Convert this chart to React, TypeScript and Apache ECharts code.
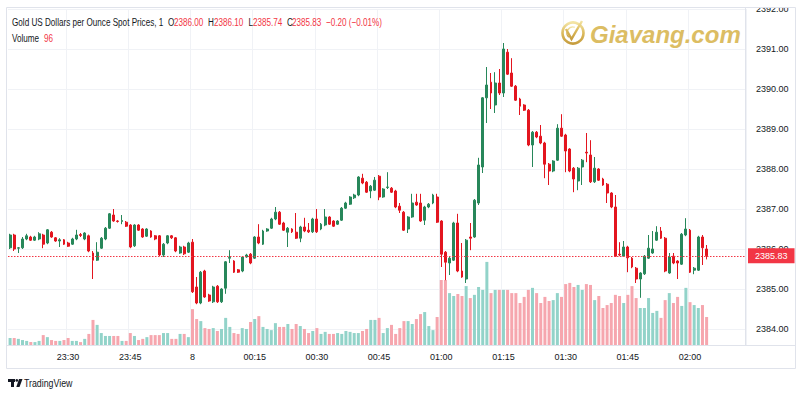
import React, { useEffect, useRef } from "react";
import * as echarts from "echarts";

// ---- data (1-minute candles, 23:16 .. 02:04) ----
const startTime = "23:16";
const slotCount = 178; // candle slots across the visible time axis (incl. empty right margin)
const titleText = "Gold US Dollars per Ounce Spot Prices, 1";
const priceMin = 2384;
const priceMax = 2392;
const priceStep = 1;

const opens = [
  2386.03, 2386.35, 2386.02, 2386.03, 2386.25, 2386.30, 2386.22, 2386.25, 2386.35, 2386.15,
  2386.42, 2386.28, 2386.20, 2386.23, 2386.15, 2386.12, 2386.25, 2386.36, 2386.25, 2386.33,
  2385.90, 2385.72, 2386.02, 2386.25, 2386.52, 2386.85, 2386.70, 2386.69, 2386.67, 2386.60,
  2386.08, 2386.60, 2386.50, 2386.32, 2386.45, 2386.33, 2386.33, 2385.85, 2386.15, 2386.33,
  2386.28, 2385.90, 2386.05, 2385.92, 2386.17, 2385.05, 2384.65, 2385.45, 2384.85, 2384.68,
  2385.07, 2384.68, 2385.02, 2385.77, 2385.70, 2385.48, 2385.45, 2385.80, 2385.87, 2385.77,
  2386.30, 2386.12, 2386.45, 2386.52, 2386.75, 2386.92, 2386.65, 2386.42, 2386.50, 2386.42,
  2386.27, 2386.55, 2386.47, 2386.43, 2386.75, 2386.50, 2386.60, 2386.80, 2386.70, 2386.62,
  2386.72, 2387.02, 2387.12, 2387.28, 2387.35, 2387.77, 2387.67, 2387.45, 2387.47, 2387.82,
  2387.30, 2387.54, 2387.52, 2387.45, 2387.07, 2386.92, 2386.50, 2386.80, 2387.17, 2387.15,
  2386.72, 2387.05, 2387.15, 2387.30, 2386.70, 2385.92, 2385.65, 2385.72, 2386.65, 2385.45,
  2385.25, 2386.30, 2386.30, 2387.15, 2388.05, 2389.78, 2390.17, 2389.60, 2390.15, 2389.90,
  2390.92, 2390.40, 2390.07, 2389.75, 2389.60, 2389.47, 2388.60, 2388.92, 2388.82, 2388.65,
  2388.12, 2387.95, 2388.22, 2389.02, 2388.85, 2388.50, 2388.02, 2387.70, 2388.05, 2388.42,
  2388.35, 2387.68, 2388.00, 2387.75, 2387.62, 2387.40, 2387.05, 2385.87, 2385.82, 2386.05,
  2385.77, 2385.52, 2385.25, 2385.38, 2385.77, 2385.90, 2386.22, 2386.45, 2386.27, 2385.40,
  2385.82, 2385.70, 2385.62, 2386.35, 2386.47, 2385.47, 2385.47, 2386.30, 2386.00,
];

const highs = [
  2386.38, 2386.38, 2386.05, 2386.30, 2386.38, 2386.33, 2386.33, 2386.42, 2386.38, 2386.50,
  2386.45, 2386.30, 2386.27, 2386.25, 2386.18, 2386.28, 2386.48, 2386.40, 2386.42, 2386.36,
  2385.95, 2386.17, 2386.30, 2386.55, 2386.90, 2387.00, 2386.72, 2386.85, 2386.70, 2386.62,
  2386.62, 2386.62, 2386.52, 2386.52, 2386.47, 2386.35, 2386.35, 2386.15, 2386.35, 2386.35,
  2386.30, 2386.08, 2386.08, 2386.18, 2386.25, 2385.30, 2385.45, 2385.48, 2384.88, 2385.08,
  2385.10, 2385.02, 2385.70, 2385.97, 2385.72, 2385.50, 2385.82, 2385.88, 2385.90, 2386.32,
  2386.62, 2386.48, 2386.52, 2386.78, 2387.05, 2386.95, 2386.68, 2386.55, 2386.52, 2386.90,
  2386.58, 2386.78, 2386.65, 2386.78, 2387.00, 2386.65, 2387.00, 2386.82, 2386.72, 2386.72,
  2387.05, 2387.18, 2387.32, 2387.38, 2387.82, 2387.88, 2387.70, 2387.60, 2387.80, 2387.85,
  2387.52, 2387.92, 2387.55, 2387.48, 2387.15, 2386.95, 2386.82, 2387.38, 2387.38, 2387.38,
  2387.08, 2387.15, 2387.38, 2387.38, 2386.72, 2385.95, 2385.80, 2386.68, 2386.88, 2386.15,
  2386.25, 2386.65, 2387.25, 2388.28, 2389.80, 2390.55, 2390.40, 2390.42, 2390.50, 2391.15,
  2391.00, 2390.77, 2390.10, 2389.78, 2389.62, 2389.50, 2388.95, 2388.95, 2389.10, 2388.68,
  2388.15, 2388.22, 2389.12, 2389.37, 2388.88, 2388.52, 2388.05, 2388.05, 2388.25, 2388.90,
  2388.72, 2388.30, 2388.02, 2387.78, 2387.65, 2387.42, 2387.35, 2386.17, 2386.20, 2386.08,
  2385.80, 2385.55, 2385.42, 2385.85, 2386.35, 2386.45, 2386.57, 2386.55, 2386.30, 2385.90,
  2385.90, 2385.72, 2386.40, 2386.77, 2386.50, 2385.55, 2386.33, 2386.35, 2386.10,
];

const lows = [
  2386.00, 2385.95, 2385.90, 2386.00, 2386.22, 2386.20, 2386.20, 2386.22, 2386.02, 2386.12,
  2386.28, 2386.18, 2386.05, 2386.10, 2386.05, 2386.10, 2386.22, 2386.30, 2386.22, 2385.92,
  2385.25, 2385.70, 2386.00, 2386.22, 2386.50, 2386.68, 2386.66, 2386.62, 2386.55, 2386.02,
  2386.05, 2386.45, 2386.28, 2386.30, 2386.28, 2386.22, 2385.82, 2385.80, 2386.12, 2386.25,
  2385.92, 2385.88, 2385.85, 2385.90, 2384.90, 2384.62, 2384.62, 2384.78, 2384.68, 2384.65,
  2384.65, 2384.65, 2384.88, 2385.65, 2385.40, 2385.40, 2385.42, 2385.78, 2385.62, 2385.75,
  2386.12, 2386.10, 2386.43, 2386.50, 2386.72, 2386.60, 2386.45, 2386.05, 2386.40, 2386.25,
  2386.17, 2386.42, 2386.40, 2386.40, 2386.40, 2386.47, 2386.57, 2386.60, 2386.55, 2386.60,
  2386.70, 2387.00, 2387.10, 2387.25, 2387.32, 2387.62, 2387.40, 2387.27, 2387.45, 2387.22,
  2387.28, 2387.50, 2387.40, 2387.02, 2386.90, 2386.45, 2386.40, 2386.78, 2387.08, 2386.68,
  2386.60, 2387.02, 2387.12, 2386.65, 2385.55, 2385.22, 2385.35, 2385.70, 2385.42, 2385.28,
  2385.15, 2385.97, 2386.28, 2387.10, 2387.90, 2389.15, 2389.50, 2389.40, 2389.85, 2389.80,
  2390.35, 2390.05, 2389.70, 2389.35, 2389.45, 2388.57, 2388.05, 2388.77, 2388.62, 2387.77,
  2387.60, 2387.92, 2388.20, 2388.80, 2387.92, 2387.92, 2387.42, 2387.47, 2387.60, 2388.17,
  2387.65, 2387.65, 2387.70, 2387.58, 2387.15, 2387.02, 2385.80, 2385.82, 2385.80, 2385.42,
  2385.52, 2385.15, 2384.78, 2385.35, 2385.75, 2385.88, 2386.20, 2386.25, 2385.42, 2385.38,
  2385.62, 2385.25, 2385.60, 2386.32, 2385.40, 2385.37, 2385.45, 2385.60, 2385.74,
];

const closes = [
  2386.35, 2386.00, 2386.03, 2386.25, 2386.33, 2386.22, 2386.30, 2386.38, 2386.12, 2386.48,
  2386.30, 2386.20, 2386.23, 2386.12, 2386.07, 2386.25, 2386.35, 2386.34, 2386.40, 2385.95,
  2385.72, 2385.92, 2386.27, 2386.52, 2386.88, 2386.70, 2386.69, 2386.71, 2386.57, 2386.05,
  2386.60, 2386.47, 2386.30, 2386.50, 2386.30, 2386.25, 2385.85, 2386.12, 2386.33, 2386.28,
  2385.95, 2386.05, 2385.88, 2386.15, 2384.93, 2384.65, 2385.42, 2384.80, 2384.70, 2385.05,
  2384.68, 2385.00, 2385.68, 2385.79, 2385.42, 2385.42, 2385.80, 2385.85, 2385.65, 2386.30,
  2386.15, 2386.45, 2386.50, 2386.75, 2386.92, 2386.62, 2386.47, 2386.52, 2386.43, 2386.27,
  2386.55, 2386.45, 2386.43, 2386.75, 2386.43, 2386.62, 2386.80, 2386.62, 2386.57, 2386.70,
  2387.02, 2387.15, 2387.30, 2387.35, 2387.80, 2387.65, 2387.42, 2387.57, 2387.72, 2387.30,
  2387.50, 2387.55, 2387.42, 2387.05, 2386.97, 2386.47, 2386.80, 2387.15, 2387.10, 2386.70,
  2387.05, 2387.12, 2387.35, 2386.67, 2385.87, 2385.67, 2385.77, 2386.65, 2385.45, 2385.30,
  2386.22, 2386.27, 2387.22, 2388.10, 2389.78, 2390.10, 2389.90, 2390.15, 2389.90, 2391.00,
  2390.37, 2390.07, 2389.72, 2389.57, 2389.47, 2388.60, 2388.92, 2388.80, 2388.65, 2388.12,
  2387.95, 2388.20, 2389.02, 2388.82, 2388.45, 2387.95, 2387.75, 2388.02, 2388.22, 2388.40,
  2387.68, 2388.02, 2387.72, 2387.60, 2387.40, 2387.05, 2385.82, 2385.85, 2386.05, 2385.78,
  2385.55, 2385.25, 2385.40, 2385.82, 2386.02, 2386.00, 2386.42, 2386.27, 2385.45, 2385.80,
  2385.65, 2385.65, 2386.37, 2386.50, 2385.42, 2385.52, 2386.30, 2386.03, 2385.83,
];

const volumes = [
  24, 24, 21, 17, 14, 10, 10, 14, 34, 27,
  17, 14, 14, 17, 24, 14, 14, 10, 21, 38,
  86, 69, 41, 31, 31, 31, 31, 14, 14, 41,
  31, 17, 21, 27, 34, 34, 34, 41, 41, 21,
  21, 38, 38, 27, 123, 89, 82, 58, 55, 58,
  48, 55, 93, 62, 41, 38, 58, 55, 79, 89,
  99, 62, 55, 51, 75, 62, 62, 72, 55, 72,
  65, 55, 41, 48, 58, 38, 45, 38, 38, 41,
  38, 48, 45, 41, 41, 48, 55, 86, 86, 93,
  41, 58, 69, 38, 58, 82, 82, 72, 89, 106,
  113, 65, 51, 96, 223, 223, 178, 168, 175, 168,
  202, 161, 172, 199, 189, 285, 178, 189, 189, 189,
  189, 178, 178, 144, 165, 189, 196, 178, 144, 165,
  151, 154, 178, 165, 209, 213, 199, 206, 189, 209,
  206, 154, 168, 127, 137, 144, 172, 168, 144, 172,
  202, 161, 127, 127, 161, 110, 117, 93, 154, 178,
  144, 165, 134, 196, 147, 137, 127, 137, 96,
];

// ---- styling ----
const UP = "#27875a";
const DOWN = "#e3151f";
const VOL_UP = "#92d3c9";
const VOL_DOWN = "#f6a6ae";
const RED = "#f23645";
const TXT = "#131722";
const GRID = "#f0f2f6";
const BORDER = "#e0e3eb";
const GOLD = "#dcbd63";
const FONT = "'Liberation Sans', Arial, sans-serif";

function buildCategories(): string[] {
  const [h, m] = startTime.split(":").map(Number);
  const out: string[] = [];
  for (let i = 0; i < slotCount; i++) {
    const t = (h * 60 + m + i) % 1440;
    out.push(String(Math.floor(t / 60)).padStart(2, "0") + ":" + String(t % 60).padStart(2, "0"));
  }
  return out;
}

export default function App() {
  const ref = useRef<HTMLDivElement>(null);

  useEffect(() => {
    if (!ref.current) return;
    const chart = echarts.init(ref.current, undefined, { renderer: "svg" });
    const categories = buildCategories();
    const isQuarter = (_i: number, v: string) => Number(v.slice(3)) % 15 === 0;

    const candleData = opens.map((o, i) => [o, closes[i], lows[i], highs[i]]);
    const volData = volumes.map((v, i) => ({
      value: v,
      itemStyle: { color: closes[i] >= opens[i] ? VOL_UP : VOL_DOWN },
    }));

    const n = closes.length;
    const last = closes[n - 1];
    const prev = closes[n - 2];
    const chg = last - prev;
    const pct = (chg / prev) * 100;
    const fmtSigned = (v: number, d: number) => (v < 0 ? "\u2212" : "+") + Math.abs(v).toFixed(d);
    const lastVol = volumes[n - 1];

    const hdr = (text: string, x: number, y: number, color: string) => ({
      type: "text",
      x,
      y,
      scaleX: 0.74,
      z: 50,
      style: { text, fill: color, fontSize: 11, fontFamily: FONT, verticalAlign: "middle", align: "left" },
    });

    const gold = new echarts.graphic.LinearGradient(0, 0, 0, 1, [
      { offset: 0, color: "#f3e4a4" },
      { offset: 0.5, color: "#dcbb5e" },
      { offset: 1, color: "#c69d3f" },
    ]);

    const option: any = {
      animation: false,
      backgroundColor: "#ffffff",
      textStyle: { fontFamily: FONT },
      grid: [
        { left: 8, right: 54, top: 9, height: 320 },
        { left: 8, right: 54, top: 245, height: 100 },
      ],
      xAxis: [
        {
          type: "category",
          gridIndex: 0,
          data: categories,
          boundaryGap: true,
          axisLine: { show: false },
          axisTick: { show: false },
          axisLabel: { show: false },
          splitLine: { show: true, interval: isQuarter, lineStyle: { color: GRID } },
        },
        {
          type: "category",
          gridIndex: 1,
          data: categories,
          boundaryGap: true,
          axisLine: { show: false },
          axisTick: { show: false },
          axisLabel: {
            interval: isQuarter,
            formatter: (v: string) => (v === "00:00" ? "8" : v),
            color: TXT,
            fontSize: 9,
            margin: 7,
          },
          splitLine: { show: true, interval: isQuarter, lineStyle: { color: GRID } },
        },
      ],
      yAxis: [
        {
          type: "value",
          gridIndex: 0,
          position: "right",
          min: priceMin,
          max: priceMax,
          interval: priceStep,
          axisLine: { show: false },
          axisTick: { show: false },
          axisLabel: { formatter: (v: number) => v.toFixed(2), color: TXT, fontSize: 9, margin: 10 },
          splitLine: { show: true, lineStyle: { color: GRID } },
        },
        {
          type: "value",
          gridIndex: 1,
          position: "right",
          min: 0,
          max: 343,
          show: true,
          axisLine: { show: false },
          axisTick: { show: false },
          axisLabel: { show: false },
          splitLine: { show: false },
        },
      ],
      series: [
        {
          type: "candlestick",
          xAxisIndex: 0,
          yAxisIndex: 0,
          data: candleData,
          barWidth: 2.4,
          itemStyle: { color: UP, color0: DOWN, borderColor: UP, borderColor0: DOWN, borderWidth: 1 },
          z: 3,
          markLine: {
            silent: true,
            symbol: ["none", "none"],
            data: [{ yAxis: last }],
            lineStyle: { color: RED, type: [1.5, 1.5], width: 1 },
            label: {
              show: true,
              position: "end",
              distance: 2,
              formatter: () => last.toFixed(2),
              color: "#ffffff",
              backgroundColor: RED,
              padding: [3, 7, 3, 7],
              fontSize: 9,
              fontFamily: FONT,
            },
          },
        },
        {
          type: "bar",
          xAxisIndex: 1,
          yAxisIndex: 1,
          data: volData,
          barWidth: 3,
          z: 1,
          markLine: {
            silent: true,
            symbol: ["none", "none"],
            data: [{ yAxis: lastVol }],
            lineStyle: { opacity: 0 },
            label: {
              show: true,
              position: "end",
              distance: 5,
              formatter: () => String(lastVol),
              color: "#ffffff",
              backgroundColor: "#f26d79",
              padding: [3, 3, 3, 3],
              fontSize: 9,
              fontFamily: FONT,
            },
          },
        },
      ],
      graphic: [
        // frame & separators
        { type: "rect", shape: { x: 0, y: 0, width: 800, height: 7 }, style: { fill: "#ffffff" }, z: 90 },
        { type: "rect", shape: { x: 6.5, y: 7.5, width: 789, height: 361 }, style: { fill: "none", stroke: BORDER, lineWidth: 1 }, z: 91 },
        { type: "line", shape: { x1: 6, y1: 345.5, x2: 796, y2: 345.5 }, style: { stroke: BORDER, lineWidth: 1 }, z: 91 },
        { type: "line", shape: { x1: 745.5, y1: 7, x2: 745.5, y2: 345 }, style: { stroke: BORDER, lineWidth: 1 }, z: 91 },
        // header
        hdr(titleText, 12, 22, TXT),
        hdr("O", 168, 22, TXT),
        hdr(opens[n - 1].toFixed(2), 174, 22, RED),
        hdr("H", 208, 22, TXT),
        hdr(highs[n - 1].toFixed(2), 214, 22, RED),
        hdr("L", 248.5, 22, TXT),
        hdr(lows[n - 1].toFixed(2), 253, 22, RED),
        hdr("C", 287, 22, TXT),
        hdr(last.toFixed(2), 292, 22, RED),
        hdr(fmtSigned(chg, 2) + " (" + fmtSigned(pct, 2) + "%)", 326, 22, RED),
        hdr("Volume", 12, 38, TXT),
        hdr(String(lastVol), 44, 38, RED),
        // watermark logo
        { type: "circle", shape: { cx: 573, cy: 33, r: 10.5 }, style: { fill: "none", stroke: gold, lineWidth: 2.6 }, z: 40 },
        { type: "arc", shape: { cx: 573, cy: 33, r: 6, startAngle: Math.PI * 0.75, endAngle: Math.PI * 1.6 }, style: { fill: "none", stroke: gold, lineWidth: 1.2 }, z: 40 },
        { type: "polyline", shape: { points: [[566, 29], [571.5, 39], [582, 21]] }, style: { fill: "none", stroke: gold, lineWidth: 2.4 }, z: 40 },
        {
          type: "text",
          x: 590,
          y: 34,
          z: 40,
          style: {
            text: "Giavang.com",
            fill: GOLD,
            fontSize: 24,
            fontWeight: "bold",
            fontStyle: "italic",
            fontFamily: FONT,
            verticalAlign: "middle",
            align: "left",
          },
        },
        // TradingView mark
        { type: "rect", shape: { x: 8, y: 379, width: 7, height: 3 }, style: { fill: TXT }, z: 40 },
        { type: "rect", shape: { x: 11, y: 379, width: 3, height: 8 }, style: { fill: TXT }, z: 40 },
        { type: "circle", shape: { cx: 16.8, cy: 380.4, r: 1.4 }, style: { fill: TXT }, z: 40 },
        { type: "polygon", shape: { points: [[19, 379], [22.5, 379], [19.5, 387], [16.3, 387]] }, style: { fill: TXT }, z: 40 },
        {
          type: "text",
          x: 24,
          y: 383,
          scaleX: 0.8,
          z: 40,
          style: { text: "TradingView", fill: TXT, fontSize: 11, fontFamily: FONT, verticalAlign: "middle", align: "left" },
        },
      ],
    };

    chart.setOption(option);
    return () => chart.dispose();
  }, []);

  return <div ref={ref} style={{ position: "fixed", left: 0, top: 0, width: 800, height: 400 }} />;
}
